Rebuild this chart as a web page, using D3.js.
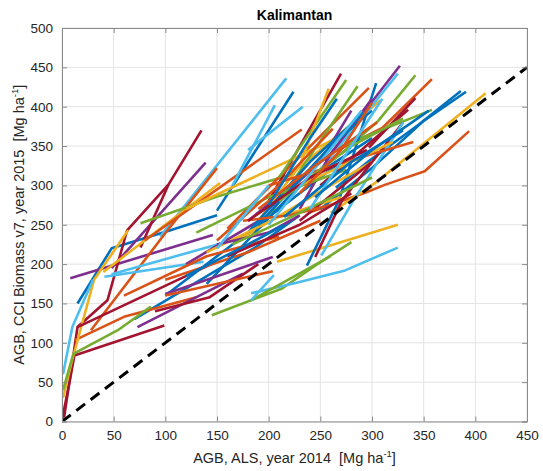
<!DOCTYPE html>
<html><head><meta charset="utf-8">
<script src="https://cdn.jsdelivr.net/npm/d3@7"></script>
<style>body{margin:0;background:#fff}svg{display:block}text{white-space:pre}</style>
</head><body>
<script>
const title = "Kalimantan";
const xTicks = [0,50,100,150,200,250,300,350,400,450];
const yTicks = [0,50,100,150,200,250,300,350,400,450,500];
const colors = ["#0072BD","#D95319","#EDB120","#7E2F8E","#77AC30","#4DBEEE","#A2142F"];

const blueLines = [
 [[15,150],[48,220],[105,243],[150,262]],
 [[70,130],[188,222],[230,262]],
 [[150,268],[224,419]],
 [[265,297],[297,331],[345,377],[386,420]],
 [[250,270],[300,322],[350,382],[391,419]],
 [[237,198],[268,281],[304,430]],
 [[100,160],[200,260],[270,330]],
 [[140,175],[230,300],[300,360]],
 [[180,240],[240,330],[292,392]],
 [[190,250],[260,350],[300,395]],
 [[215,260],[280,330],[330,370]],
 [[120,185],[180,225],[215,250]],
 [[200,275],[240,360],[266,410]],
 [[245,285],[300,345],[355,395]]
];
const orangeLines = [
 [[238,265],[294,291],[313,301],[351,318],[394,369]],
 [[260,340],[310,373],[358,435]],
 [[12,103],[60,133],[130,158]],
 [[28,116],[101,241],[150,322]],
 [[80,230],[232,371]],
 [[160,245],[297,424]],
 [[100,180],[180,215],[250,255]],
 [[60,160],[140,210],[210,235]],
 [[200,300],[300,340],[340,355]],
 [[175,255],[220,262],[260,275]],
 [[150,230],[210,300],[262,372]],
 [[190,270],[250,330],[305,380]],
 [[230,290],[270,345],[300,405]],
 [[100,160],[204,191]]
];
const yellowLines = [
 [[208,203],[325,250]],
 [[260,265],[303,303],[410,417]],
 [[1,30],[9,74],[31,180],[64,243]],
 [[40,190],[153,303]],
 [[208,300],[308,408]],
 [[120,270],[250,350],[280,370]],
 [[170,230],[260,300],[300,330]],
 [[190,255],[230,325],[258,423]],
 [[140,215],[210,260],[270,285]],
 [[230,300],[280,330],[320,355]]
];
const purpleLines = [
 [[8,182],[146,237]],
 [[48,195],[139,329]],
 [[255,330],[327,452]],
 [[73,120],[175,188]],
 [[180,255],[260,340],[290,390]],
 [[120,200],[210,270]],
 [[200,270],[250,330],[280,395]],
 [[230,270],[260,340],[300,410]],
 [[150,225],[200,240],[230,262]],
 [[100,162],[204,209]]
];
const greenLines = [
 [[145,135],[213,169],[245,198],[280,228]],
 [[265,347],[358,396]],
 [[270,340],[306,382],[342,440]],
 [[1,40],[11,86],[54,116],[86,146]],
 [[76,252],[153,287],[225,315]],
 [[210,310],[275,434]],
 [[200,260],[286,426]],
 [[183,154],[260,210]],
 [[130,240],[200,285],[275,320]],
 [[210,280],[280,350],[330,385]],
 [[165,225],[230,265],[300,310]]
];
const lightBlueLines = [
 [[183,163],[226,176],[274,192],[325,221]],
 [[95,235],[217,436]],
 [[180,345],[233,400]],
 [[41,184],[137,203]],
 [[48,187],[172,233]],
 [[250,320],[325,442]],
 [[251,211],[282,281],[330,380]],
 [[1,60],[10,120],[30,180]],
 [[165,300],[206,402]],
 [[183,154],[205,186]],
 [[200,250],[250,330],[290,395]],
 [[240,270],[280,350],[310,410]],
 [[150,220],[200,300]]
];
const darkRedLines = [
 [[0,2],[7,48],[12,84],[99,122]],
 [[2,5],[11,84],[15,120],[44,154],[63,243],[103,301],[135,370]],
 [[76,221],[103,301]],
 [[15,120],[146,201]],
 [[200,280],[270,442]],
 [[245,209],[271,281],[330,380]],
 [[297,348],[342,411]],
 [[250,300],[335,396]],
 [[230,255],[300,330]],
 [[180,255],[240,310],[295,345]],
 [[160,210],[230,250],[280,290]],
 [[90,140],[143,158],[190,200]]
];
const refLine = [[0,0],[450,450]];

const W = 543, H = 471;
const m = {l:62, r:16, t:28, b:49.5};
const svg = d3.select("body").append("svg").attr("width",W).attr("height",H);
const x = d3.scaleLinear().domain([0,450]).range([m.l, W-m.r]);
const y = d3.scaleLinear().domain([0,500]).range([H-m.b, m.t]);
const font = "'Liberation Sans', Arial, sans-serif";

const g = svg.append("g");
g.selectAll("line.vx").data(xTicks).join("line")
 .attr("x1",d=>x(d)).attr("x2",d=>x(d)).attr("y1",y(0)).attr("y2",y(500))
 .attr("stroke","#e3e3e3").attr("stroke-width",1);
g.selectAll("line.hy").data(yTicks).join("line")
 .attr("y1",d=>y(d)).attr("y2",d=>y(d)).attr("x1",x(0)).attr("x2",x(450))
 .attr("stroke","#e3e3e3").attr("stroke-width",1);

svg.append("clipPath").attr("id","clip").append("rect")
 .attr("x",x(0)).attr("y",y(500)).attr("width",x(450)-x(0)).attr("height",y(0)-y(500));

const groups = [
 [0, blueLines],[1, orangeLines],[2, yellowLines],[3, purpleLines],
 [4, greenLines],[5, lightBlueLines],[6, darkRedLines]
];
const all = [];
const maxLen = d3.max(groups, d=>d[1].length);
for(let i=0;i<maxLen;i++) groups.forEach(([c,arr])=>{ if(arr[i]) all.push([c,arr[i]]); });

const line = d3.line().x(d=>x(d[0])).y(d=>y(d[1]));
const plot = svg.append("g").attr("clip-path","url(#clip)");
plot.selectAll("path.s").data(all).join("path")
 .attr("d",d=>line(d[1])).attr("fill","none")
 .attr("stroke",d=>colors[d[0]]).attr("stroke-width",2.6)
 .attr("stroke-linejoin","round");
plot.append("path").attr("d",line(refLine)).attr("fill","none")
 .attr("stroke","#000").attr("stroke-width",3).attr("stroke-dasharray","11,7");

const ax = svg.append("g");
const axCol = "#8a8a8a";
ax.append("g").attr("transform",`translate(0,${y(0)})`)
 .call(d3.axisBottom(x).tickValues(xTicks).tickSize(-5).tickPadding(9).tickFormat(d3.format("d")));
ax.append("g").attr("transform",`translate(0,${y(500)})`)
 .call(d3.axisTop(x).tickValues(xTicks).tickSize(-5).tickFormat(""));
ax.append("g").attr("transform",`translate(${x(0)},0)`)
 .call(d3.axisLeft(y).tickValues(yTicks).tickSize(-5).tickPadding(9).tickFormat(d3.format("d")));
ax.append("g").attr("transform",`translate(${x(450)},0)`)
 .call(d3.axisRight(y).tickValues(yTicks).tickSize(-5).tickFormat(""));
ax.selectAll("path.domain").attr("stroke",axCol).attr("stroke-width",1);
ax.selectAll(".tick line").attr("stroke",axCol);
ax.selectAll(".tick text").attr("font-family",font).attr("font-size",13.5).attr("fill","#262626");

svg.append("text").attr("x",(x(0)+x(450))/2).attr("y",20).attr("text-anchor","middle")
 .attr("font-family",font).attr("font-weight","bold").attr("font-size",14).attr("fill","#000").text(title);

const xl = svg.append("text").attr("x",(x(0)+x(450))/2).attr("y",463).attr("text-anchor","middle")
 .attr("font-family",font).attr("font-size",14.5).attr("fill","#262626");
xl.append("tspan").text("AGB, ALS, year 2014  [Mg ha");
xl.append("tspan").attr("font-size",9.5).attr("dy",-6).text("-1");
xl.append("tspan").attr("dy",6).text("]");

const yl = svg.append("text").attr("transform",`translate(24,${(y(0)+y(500))/2}) rotate(-90)`)
 .attr("text-anchor","middle").attr("font-family",font).attr("font-size",14.5).attr("fill","#262626");
yl.append("tspan").text("AGB, CCI Biomass v7, year 2015  [Mg ha");
yl.append("tspan").attr("font-size",9.5).attr("dy",-6).text("-1");
yl.append("tspan").attr("dy",6).text("]");
</script>
</body></html>
